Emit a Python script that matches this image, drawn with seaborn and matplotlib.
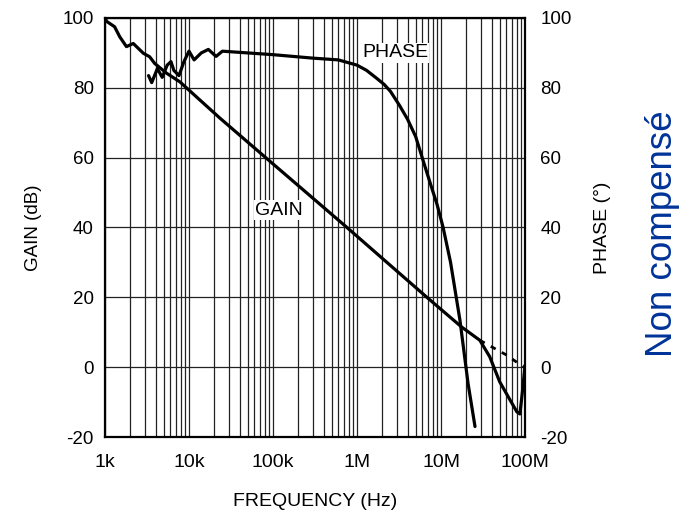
import numpy as np
import pandas as pd
import seaborn as sns
import matplotlib
matplotlib.use('Agg')
import matplotlib.pyplot as plt
from matplotlib.ticker import FixedLocator, LogLocator, NullFormatter

# Gain curve (measured, solid)
gain_freq = [1e3, 1.05e3, 1.3e3, 1.5e3, 1.8e3, 2.17e3, 2.86e3, 3.4e3, 3.9e3, 5.4e3,
             7.8e3, 13.5e3, 23.4e3, 82e3, 760e3, 6.8e6, 17.6e6, 29e6, 38e6,
             50e6, 80e6, 87e6, 94e6, 100e6]
gain_db = [100, 99, 97.5, 94.6, 91.8, 92.7, 89.9, 88.9, 87, 84.2,
           81.7, 76.5, 71.3, 60, 40, 20, 11.5, 7.7, 3,
           -4.2, -12.8, -13.4, -6.2, 0.5]

# Gain extension (dashed)
gain_ext_freq = [29e6, 60e6, 97e6]
gain_ext_db = [7.7, 3.5, 0]

# Phase curve
phase_freq = [3.3e3, 3.6e3, 4.2e3, 4.8e3, 5.5e3, 6.1e3, 6.6e3, 7.6e3, 8.7e3, 10e3,
              11.5e3, 14e3, 17e3, 21e3, 25e3, 50e3, 100e3, 300e3, 600e3, 1e6,
              1.3e6, 1.7e6, 2.1e6, 2.5e6, 3.2e6, 4e6, 5e6, 6.1e6, 7.6e6, 9e6,
              10.6e6, 13e6, 16.8e6, 21e6, 25.4e6]
phase_deg = [83.5, 81.5, 85.5, 83, 86.5, 87.5, 85, 83.5, 87.5, 90.5,
             88, 90, 91, 89, 90.5, 90, 89.5, 88.5, 88, 86.5,
             85, 82.8, 81, 79, 75, 71, 66, 59.3, 52, 46.5,
             40, 30, 13.5, -4.7, -17]

x_ticks = [1e3, 1e4, 1e5, 1e6, 1e7, 1e8]
x_labels = ['1k', '10k', '100k', '1M', '10M', '100M']
y_ticks = [-20, 0, 20, 40, 60, 80, 100]

sns.set_theme(style='white')
plt.rcParams['font.family'] = ['Liberation Sans', 'DejaVu Sans']
plt.rcParams['text.color'] = 'black'
plt.rcParams['axes.labelcolor'] = 'black'
plt.rcParams['axes.unicode_minus'] = False

fig = plt.figure(figsize=(6.92, 5.11), dpi=100)
ax = fig.add_axes([105 / 692, 1 - 437 / 511, 420 / 692, 419 / 511])

gain_df = pd.DataFrame({'f': gain_freq, 'v': gain_db})
ext_df = pd.DataFrame({'f': gain_ext_freq, 'v': gain_ext_db})
phase_df = pd.DataFrame({'f': phase_freq, 'v': phase_deg})

sns.lineplot(data=gain_df, x='f', y='v', ax=ax, color='black', lw=2.3, zorder=5)
sns.lineplot(data=ext_df, x='f', y='v', ax=ax, color='black', lw=2.0,
             dashes=False, linestyle=(0, (2, 2.5)), zorder=5)
sns.lineplot(data=phase_df, x='f', y='v', ax=ax, color='black', lw=2.3, zorder=5)

ax.set_xscale('log')
ax.set_xlim(1e3, 1e8)
ax.set_ylim(-20, 100)
ax.xaxis.set_major_locator(FixedLocator(x_ticks))
ax.set_xticklabels(x_labels)
ax.xaxis.set_minor_locator(LogLocator(base=10, subs=np.arange(2, 10)))
ax.xaxis.set_minor_formatter(NullFormatter())
ax.set_yticks(y_ticks)
ax.grid(True, which='both', axis='x', color='#222222', lw=0.9)
ax.grid(True, which='major', axis='y', color='#222222', lw=0.9)
ax.tick_params(axis='both', which='both', length=0, colors='black')
ax.tick_params(axis='x', pad=12, labelsize=14)
ax.tick_params(axis='y', pad=8, labelsize=13.5)
for s in ax.spines.values():
    s.set_color('black')
    s.set_linewidth(1.6)

ax.set_xlabel('FREQUENCY (Hz)', fontsize=14, labelpad=16)
ax.set_ylabel('GAIN (dB)', fontsize=13.5, labelpad=15)

ax2 = ax.twinx()
ax2.set_ylim(-20, 100)
ax2.set_yticks(y_ticks)
ax2.tick_params(axis='y', length=0, labelsize=13.5, pad=11, colors='black')
for s in ax2.spines.values():
    s.set_visible(False)
ax2.set_ylabel('PHASE (°)', fontsize=14, labelpad=16)
ax2.grid(False)

ax.text(2.83e6, 90, 'PHASE', fontsize=14, ha='center', va='center', zorder=6,
        bbox=dict(facecolor='white', edgecolor='none', pad=1))
ax.text(1.18e5, 45, 'GAIN', fontsize=14, ha='center', va='center', zorder=6,
        bbox=dict(facecolor='white', edgecolor='none', pad=1))

fig.text(663 / 692, 1 - 234 / 511, 'Non compensé', fontsize=26.5, color='#003399',
         rotation=90, ha='center', va='center')

fig.savefig('out.png', dpi=100)
